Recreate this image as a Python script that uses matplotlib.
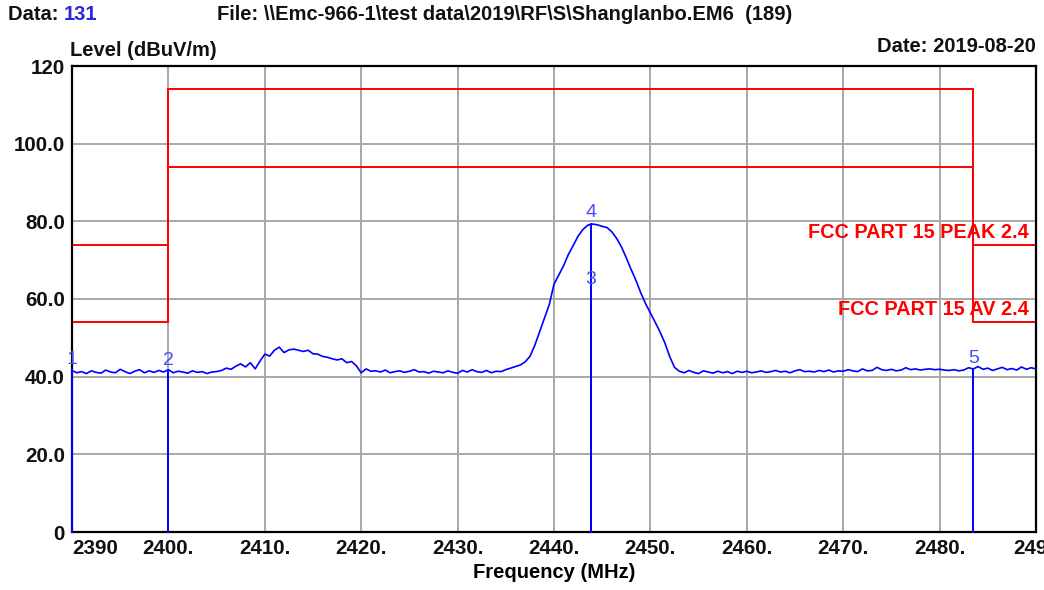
import numpy as np
import matplotlib
matplotlib.use("Agg")
import matplotlib.pyplot as plt

plt.rcParams["font.family"] = ["Liberation Sans", "DejaVu Sans"]

# spectrum trace, 0.5 MHz steps from 2390 to 2490 MHz
freq_start, freq_step = 2390.0, 0.5
level = [
    # 2390 - 2399.5
    41.6, 41.0, 41.3, 40.8, 41.5, 41.1, 40.9, 41.7, 41.2, 41.0,
    41.9, 41.3, 40.8, 41.4, 41.8, 41.0, 41.5, 41.1, 41.6, 41.2,
    # 2400 - 2409.5
    41.8, 41.0, 41.4, 41.2, 40.9, 41.5, 41.1, 41.3, 40.8, 41.2,
    41.3, 41.6, 42.2, 41.9, 42.7, 43.3, 42.5, 43.6, 42.0, 44.0,
    # 2410 - 2419.5
    45.8, 45.3, 46.8, 47.6, 46.2, 46.9, 47.1, 46.8, 46.5, 46.8,
    45.9, 45.8, 45.2, 45.0, 44.6, 44.3, 44.6, 43.6, 43.9, 42.8,
    # 2420 - 2429.5
    41.0, 42.0, 41.4, 41.5, 41.2, 41.7, 41.0, 41.3, 41.5, 41.1,
    41.4, 41.8, 41.2, 41.3, 40.9, 41.4, 41.2, 41.0, 41.5, 41.1,
    # 2430 - 2439.5
    40.9, 41.6, 41.2, 41.8, 41.3, 41.1, 41.6, 41.0, 41.4, 41.3,
    41.8, 42.2, 42.6, 43.0, 43.8, 45.2, 48.0, 51.5, 55.0, 58.5,
    # 2440 - 2449.5
    63.8, 66.2, 68.6, 71.5, 73.8, 76.2, 77.9, 79.0, 79.3, 79.1,
    78.7, 78.4, 77.3, 75.6, 73.4, 70.6, 67.6, 64.8, 61.6, 58.8,
    # 2450 - 2459.5
    56.4, 54.0, 51.5, 48.7, 45.2, 42.4, 41.4, 41.0, 41.6, 41.1,
    40.8, 41.5, 41.2, 40.9, 41.4, 41.0, 41.3, 40.8, 41.4, 41.1,
    # 2460 - 2469.5
    41.4, 41.0, 41.2, 41.5, 41.1, 41.3, 41.6, 41.2, 41.4, 41.0,
    41.5, 41.8, 41.3, 41.4, 41.2, 41.6, 41.3, 41.7, 41.2, 41.5,
    # 2470 - 2479.5
    41.4, 41.8, 41.5, 41.3, 42.0, 41.5, 41.6, 42.4, 41.8, 41.6,
    41.9, 41.5, 41.7, 42.3, 41.8, 42.0, 41.7, 41.9, 42.0, 41.8,
    # 2480 - 2490
    41.9, 41.7, 41.6, 41.8, 41.5, 41.7, 42.3, 42.0, 42.6, 41.9,
    42.2, 41.6, 42.0, 42.4, 41.8, 42.1, 41.7, 42.5, 41.9, 42.3,
    42.0,
]

# FCC part 15 limit lines
limit_edges = [2390.0, 2400.0, 2483.5, 2490.0]
limit_peak = [74.0, 114.0, 74.0]
limit_av = [54.0, 94.0, 54.0]

# markers
marker_ids = ["1", "2", "3", "4", "5"]
marker_freq = [2390.0, 2400.0, 2443.8, 2443.8, 2483.5]
marker_level = [41.6, 41.3, 62.0, 79.3, 41.7]

x_ticks = [2390, 2400, 2410, 2420, 2430, 2440, 2450, 2460, 2470, 2480, 2490]
x_labels = ["2390", "2400.", "2410.", "2420.", "2430.", "2440.", "2450.",
            "2460.", "2470.", "2480.", "2490"]
y_ticks = [0, 20, 40, 60, 80, 100, 120]
y_labels = ["0", "20.0", "40.0", "60.0", "80.0", "100.0", "120"]

freq = freq_start + freq_step * np.arange(len(level))

fig = plt.figure(figsize=(10.44, 5.90), dpi=100)
ax = fig.add_axes([72 / 1044, 1 - 532 / 590, (1036 - 72) / 1044, (532 - 66) / 590])
ax.set_xlim(2390, 2490)
ax.set_ylim(0, 120)

ax.set_xticks(x_ticks)
ax.set_xticklabels(x_labels)
ax.set_yticks(y_ticks)
ax.set_yticklabels(y_labels)
ax.tick_params(length=0, labelsize=14.8)
ax.tick_params(axis="x", pad=5)
ax.tick_params(axis="y", pad=5)
for t in ax.get_xticklabels() + ax.get_yticklabels():
    t.set_fontweight("bold")
    t.set_color("#111111")
ax.get_xticklabels()[0].set_ha("left")

ax.grid(True, color="#a8a8a8", linewidth=1.4)
ax.set_axisbelow(True)
for s in ax.spines.values():
    s.set_linewidth(1.6)
    s.set_color("black")

# limit lines
ax.stairs(limit_peak, limit_edges, baseline=None, color="red", linewidth=1.4)
ax.stairs(limit_av, limit_edges, baseline=None, color="red", linewidth=1.4)
ax.text(2489.2, limit_peak[-1] + 0.8, "FCC PART 15 PEAK 2.4", color="red",
        fontsize=14.3, fontweight="bold", ha="right", va="bottom")
ax.text(2489.2, limit_av[-1] + 0.8, "FCC PART 15 AV 2.4", color="red",
        fontsize=14.3, fontweight="bold", ha="right", va="bottom")

# trace
ax.plot(freq, level, color="#0000ff", linewidth=1.2, zorder=3)

# markers
for mid, mf, ml in zip(marker_ids, marker_freq, marker_level):
    ax.plot([mf, mf], [0, ml], color="#0000ff", linewidth=1.4, zorder=3,
            clip_on=False)
    ann = ax.annotate(mid, (mf, ml), xytext=(0, 2), textcoords="offset points",
                      ha="center", va="bottom", color="#4a4aff", fontsize=14,
                      zorder=4)
    ann.set_clip_on(True)

ax.set_xlabel("Frequency (MHz)", fontsize=14.5, fontweight="bold", labelpad=4)

# header texts
fig.text(8 / 1044, 1 - 15 / 590, "Data: ", fontsize=14.5, fontweight="bold",
         va="center", ha="left", color="#111111")
fig.text(64 / 1044, 1 - 15 / 590, "131", fontsize=14.5, fontweight="bold",
         va="center", ha="left", color="#2828d8")
fig.text(217 / 1044, 1 - 15 / 590,
         "File: \\\\Emc-966-1\\test data\\2019\\RF\\S\\Shanglanbo.EM6  (189)",
         fontsize=14.5, fontweight="bold", va="center", ha="left", color="#111111")
fig.text(70 / 1044, 1 - 50 / 590, "Level (dBuV/m)", fontsize=14.5,
         fontweight="bold", va="center", ha="left", color="#111111")
fig.text(1036 / 1044, 1 - 47 / 590, "Date: 2019-08-20", fontsize=14.5,
         fontweight="bold", va="center", ha="right", color="#111111")

fig.savefig("out.png", dpi=100, facecolor="white")
